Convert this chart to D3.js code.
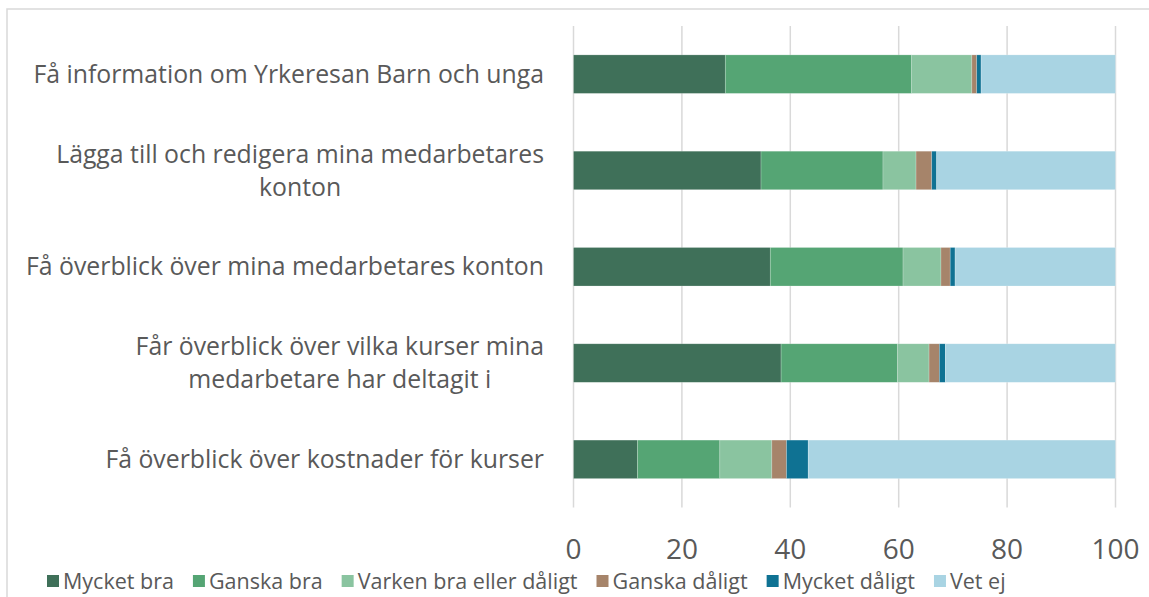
<!DOCTYPE html>
<html>
<head>
<meta charset="utf-8">
<script src="https://cdn.jsdelivr.net/npm/d3@7"></script>
<style>
  body { margin: 0; background: #fff; }
  svg text { font-family: "Open Sans", Lato, sans-serif; fill: #595959; }
</style>
</head>
<body>
<svg width="1149" height="597"></svg>
<script>
// categories, top to bottom
var categories = [
    "Få information om Yrkeresan Barn och unga",
    "Lägga till och redigera mina medarbetares|konton",
    "Få överblick över mina medarbetares konton",
    "Får överblick över vilka kurser mina|medarbetare har deltagit i",
    "Få överblick över kostnader för kurser"
];
var seriesNames = ["Mycket bra", "Ganska bra", "Varken bra eller dåligt", "Ganska dåligt", "Mycket dåligt", "Vet ej"];
var seriesColors = ["#3f7059", "#55a574", "#8ac4a0", "#a6846a", "#0f7293", "#a9d4e3"];

// values per series, one per category (percent)
var mycketBra    = [28.0, 34.6, 36.3, 38.3, 11.8];
var ganskaBra    = [34.4, 22.5, 24.5, 21.5, 15.2];
var varken       = [11.1,  6.1,  7.0,  5.8,  9.6];
var ganskaDaligt = [ 0.9,  2.9,  1.7,  1.9,  2.7];
var mycketDaligt = [ 0.8,  0.9,  0.9,  1.1,  4.0];
var vetEj        = [24.8, 33.0, 29.6, 31.4, 56.7];

var xTicks = [0, 20, 40, 60, 80, 100];

var svg = d3.select("svg"),
    width = +svg.attr("width"),
    height = +svg.attr("height");

// chart frame (runs off the right and bottom edge in the original)
svg.append("rect")
    .attr("x", 7).attr("y", 9)
    .attr("width", 1170).attr("height", 620)
    .attr("fill", "none")
    .attr("stroke", "#d9d9d9")
    .attr("stroke-width", 1.5);

var plot = { left: 573.5, right: 1115.5, top: 26, bottom: 507.5 };

var x = d3.scaleLinear().domain([0, 100]).range([plot.left, plot.right]);
var y = d3.scaleBand().domain(categories).range([plot.top, plot.bottom]).paddingInner(0.6).paddingOuter(0.3);

var rows = categories.map(function (c, i) {
    return {
        cat: c,
        "Mycket bra": mycketBra[i],
        "Ganska bra": ganskaBra[i],
        "Varken bra eller dåligt": varken[i],
        "Ganska dåligt": ganskaDaligt[i],
        "Mycket dåligt": mycketDaligt[i],
        "Vet ej": vetEj[i]
    };
});
var stacked = d3.stack().keys(seriesNames)(rows);

// gridlines
svg.append("g")
    .selectAll("line")
    .data(xTicks)
    .enter().append("line")
    .attr("x1", function (d) { return x(d); })
    .attr("x2", function (d) { return x(d); })
    .attr("y1", plot.top)
    .attr("y2", plot.bottom)
    .attr("stroke", "#d9d9d9")
    .attr("stroke-width", 1.5);

// bars
svg.append("g")
    .selectAll("g")
    .data(stacked)
    .enter().append("g")
    .attr("fill", function (d, i) { return seriesColors[i]; })
    .selectAll("rect")
    .data(function (d) { return d; })
    .enter().append("rect")
    .attr("x", function (d) { return x(d[0]); })
    .attr("width", function (d) { return x(d[1]) - x(d[0]); })
    .attr("y", function (d) { return y(d.data.cat); })
    .attr("height", y.bandwidth())
    .attr("stroke", "#fff")
    .attr("stroke-opacity", 0.35)
    .attr("stroke-width", 0.6);

// x axis tick labels
svg.append("g")
    .selectAll("text")
    .data(xTicks)
    .enter().append("text")
    .attr("x", function (d) { return x(d); })
    .attr("y", 559)
    .attr("text-anchor", "middle")
    .style("font-size", "28px")
    .text(function (d) { return d; });

// category labels, wrapped lines centred inside a right aligned block
var labelRight = 544, lineH = 33;
var labels = svg.append("g").selectAll("g")
    .data(categories)
    .enter().append("g");

labels.each(function (c) {
    var g = d3.select(this);
    var lines = c.split("|");
    var cy = y(c) + y.bandwidth() / 2;
    var texts = lines.map(function (l, i) {
        return g.append("text")
            .attr("y", cy + (i - (lines.length - 1) / 2) * lineH)
            .attr("dy", "0.35em")
            .style("font-size", "24.8px")
            .text(l);
    });
    var maxW = d3.max(texts, function (t) { return t.node().getComputedTextLength(); });
    texts.forEach(function (t) {
        t.attr("text-anchor", "middle").attr("x", labelRight - maxW / 2);
    });
});

// legend
var legend = svg.append("g");
var lx = 47;
seriesNames.forEach(function (name, i) {
    legend.append("rect")
        .attr("x", lx).attr("y", 575)
        .attr("width", 12).attr("height", 12)
        .attr("fill", seriesColors[i]);
    var t = legend.append("text")
        .attr("x", lx + 16).attr("y", 581)
        .attr("dy", "0.35em")
        .style("font-size", "21.5px")
        .text(name);
    lx += 16 + t.node().getComputedTextLength() + 19;
});
</script>
</body>
</html>
